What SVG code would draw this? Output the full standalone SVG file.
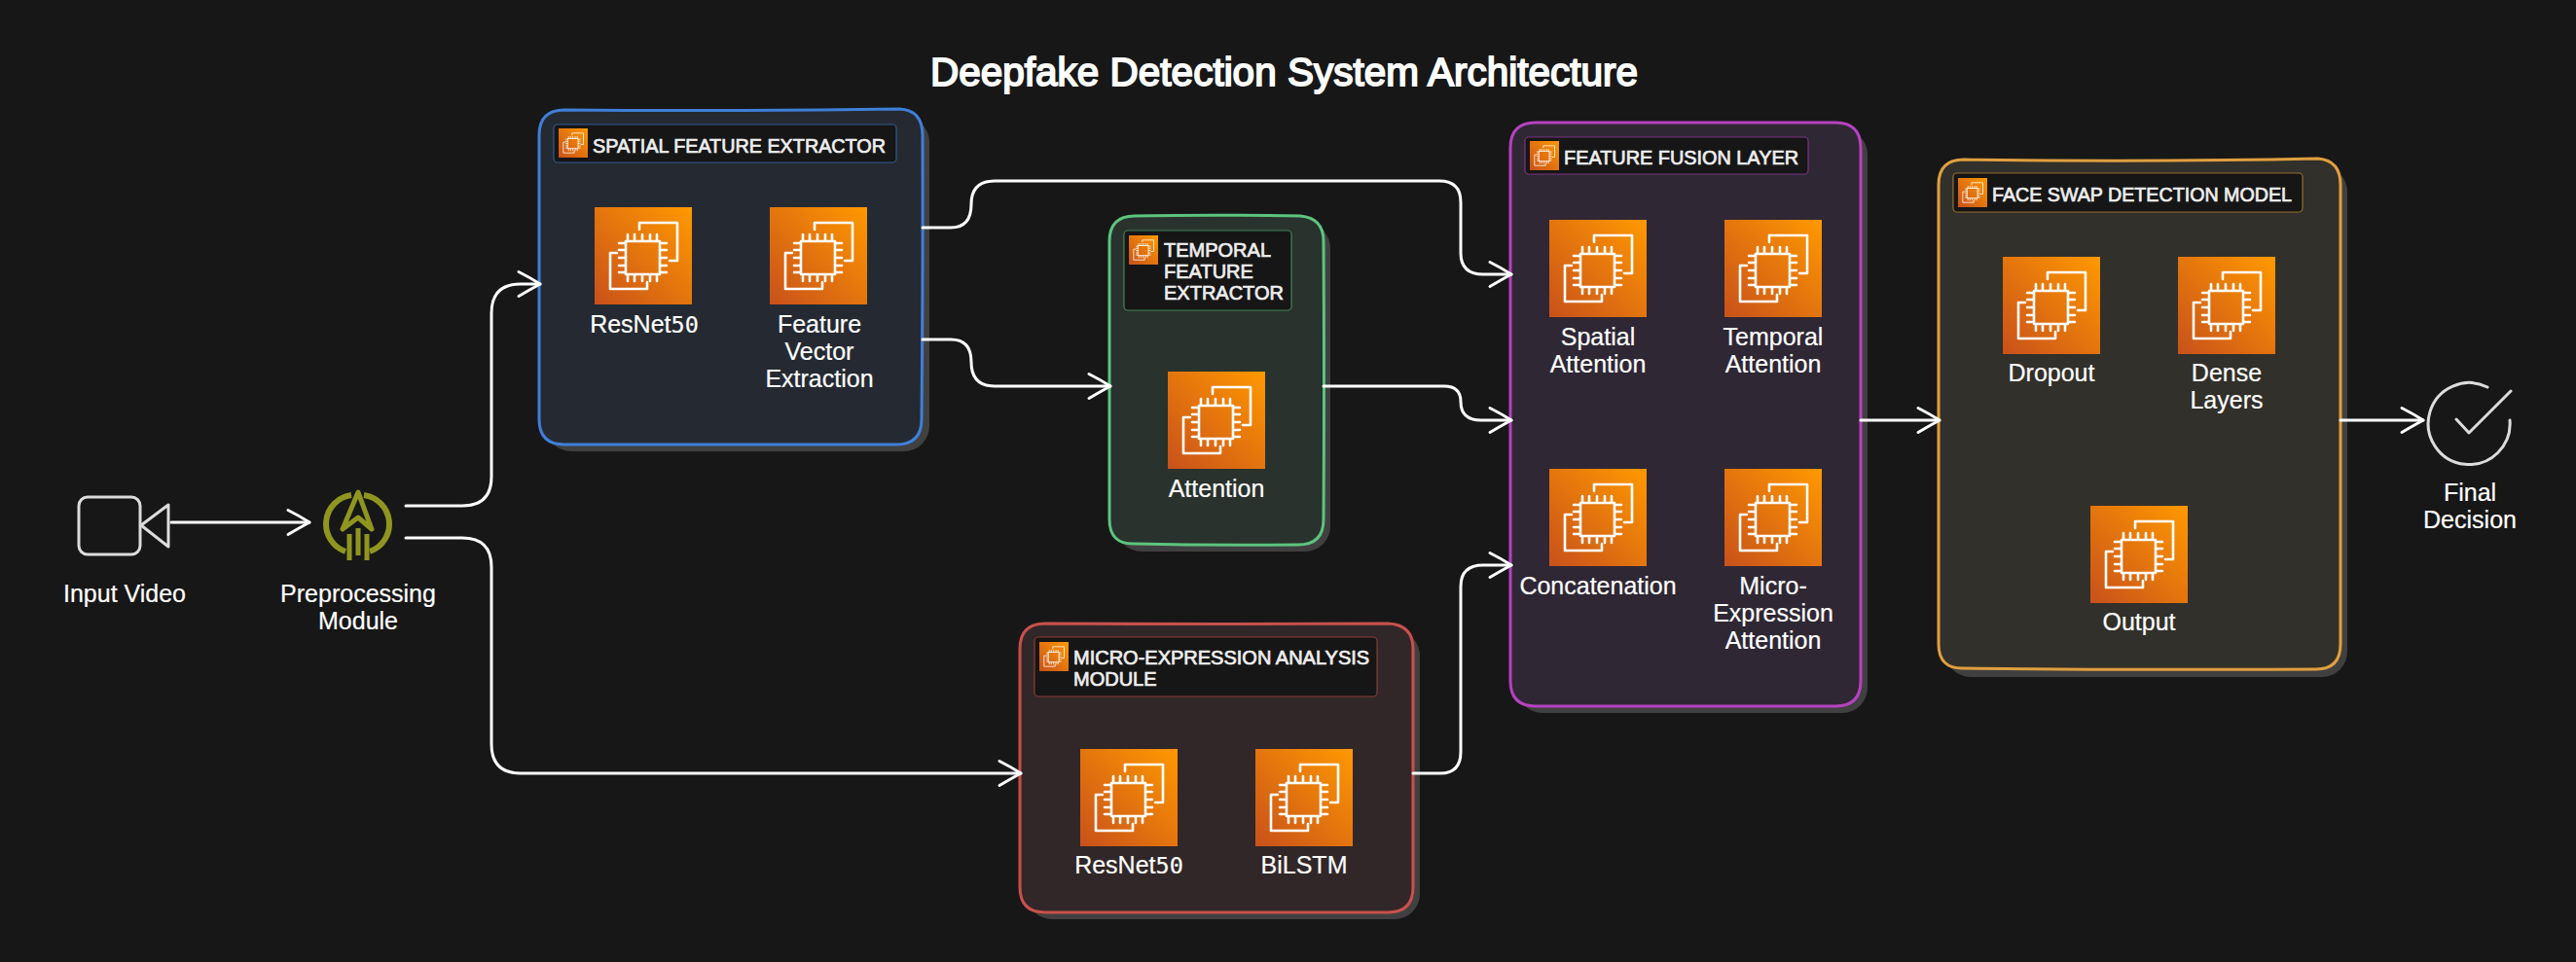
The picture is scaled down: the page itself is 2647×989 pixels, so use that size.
<svg xmlns="http://www.w3.org/2000/svg" width="2647" height="989" viewBox="0 0 2647 989">
<style>
text{font-family:"Liberation Sans",Arial,sans-serif;fill:#fff}
.l{font-size:25px;text-anchor:middle;stroke:#fff;stroke-width:.2}
.m{font-family:"DejaVu Sans Mono",monospace;font-size:23.500px}
.h{font-size:20px;fill:#eee;stroke:#eee;stroke-width:.7}
.t{font-size:40.500px;text-anchor:middle;stroke:#fff;stroke-width:1.800}
.c{fill:none;stroke:#fff;stroke-width:3;stroke-linecap:round;stroke-linejoin:round}
.s{fill:#404040}
.g{stroke-width:3}
.hb{fill:#161616;stroke-width:1.200;stroke-opacity:.6}
.ic{fill:none;stroke:#fff;stroke-width:2.600;stroke-linejoin:round;stroke-linecap:round}
.o{fill:none;stroke:#dcdcdc;stroke-width:3;stroke-linecap:round;stroke-linejoin:round}
.p{fill:none;stroke:#8f961f}
</style>
<defs>
<linearGradient id="gr" x1="0" y1="1" x2="1" y2="0"><stop offset="0" stop-color="#c8511b"/><stop offset="1" stop-color="#f90"/></linearGradient>
<symbol id="ec2" viewBox="0 0 100 100" width="100" height="100">
<rect width="100" height="100" fill="url(#gr)"/>
<path class="ic" d="M46 23V16H85V55H77M23 47H16V84H54V77M32 35H67V69H32ZM34 28V35M41 28V35M49 28V35M57 28V35M64 28V35M34 69V76M41 69V76M49 69V76M57 69V76M64 69V76M25 37H32M25 44H32M25 52H32M25 60H32M25 67H32M67 37H74M67 44H74M67 52H74M67 60H74M67 67H74"/>
</symbol>
<marker id="a" viewBox="0 0 26 30" refX="24" refY="15" markerWidth="26" markerHeight="30" markerUnits="userSpaceOnUse" orient="auto" overflow="visible">
<path d="M2 2.500Q13 8 24 15Q13 21 2 27.500" fill="none" stroke="#fff" stroke-width="3" stroke-linecap="round" stroke-linejoin="round"/>
</marker>
</defs>
<rect width="2647" height="989" fill="#171717"/>
<text class="t" x="1319.500" y="88" textLength="727" lengthAdjust="spacingAndGlyphs">Deepfake Detection System Architecture</text>

<g id="input-video">
<rect class="o" x="81" y="511" width="63" height="59" rx="9"/>
<path class="o" d="M145 540L173 519V562Z"/>
<text class="l" x="128" y="619">Input Video</text>
</g>
<g id="preprocessing">
<path class="p" stroke-width="6" d="M361 509A30 30 0 0 0 355 567M374 509A30 30 0 0 1 380 567"/>
<path class="p" stroke-width="5" stroke-linejoin="round" d="M368 506L382 544L368 532L352 544Z"/>
<path class="p" stroke-width="5" d="M359 549V576M368 543V571M377 549V576"/>
<text class="l" x="368" y="619">Preprocessing</text>
<text class="l" x="368" y="647">Module</text>
</g>

<g id="spatial">
<rect class="s" x="561" y="120" width="394" height="344" rx="26"/>
<path class="g" fill="#252a32" stroke="#3f7fd8" d="M580 113Q750 114.500 924 112Q948 113 948 139Q948.500 280 947 431Q947 457 921 457H580Q554 457 554 431V139Q554 113 580 113Z"/>
<rect class="hb" x="569" y="128" width="352" height="39" rx="4" stroke="#3f7fd8"/>
<use href="#ec2" x="574" y="132" width="30" height="30"/>
<text class="h" x="609" y="157" textLength="301" lengthAdjust="spacingAndGlyphs">SPATIAL FEATURE EXTRACTOR</text>
<use href="#ec2" x="611" y="213"/>
<text class="l" x="662" y="342">ResNet<tspan class="m">50</tspan></text>
<use href="#ec2" x="791" y="213"/>
<text class="l" x="842" y="342">Feature</text>
<text class="l" x="842" y="370">Vector</text>
<text class="l" x="842" y="398">Extraction</text>
</g>

<g id="temporal">
<rect class="s" x="1147" y="229" width="220" height="338" rx="26"/>
<path class="g" fill="#29322c" stroke="#5cc47e" d="M1166 222Q1250 220.500 1336 222Q1360 224 1360 248Q1361 400 1360 534Q1360 560 1334 560Q1250 561 1166 559Q1140 560 1140 534V248Q1140 222 1166 222Z"/>
<rect class="hb" x="1155" y="237" width="172" height="82" rx="4" stroke="#5cc47e"/>
<use href="#ec2" x="1160" y="242" width="30" height="30"/>
<text class="h" x="1196" y="264">TEMPORAL</text>
<text class="h" x="1196" y="286">FEATURE</text>
<text class="h" x="1196" y="308">EXTRACTOR</text>
<use href="#ec2" x="1200" y="382"/>
<text class="l" x="1250" y="511">Attention</text>
</g>

<g id="micro">
<rect class="s" x="1055" y="648" width="404" height="297" rx="26"/>
<path class="g" fill="#322728" stroke="#c9504c" d="M1074 641Q1250 642 1426 641Q1452 642 1452 667V912Q1452 938 1426 938H1074Q1048 938 1048 912V667Q1048 641 1074 641Z"/>
<rect class="hb" x="1063" y="655" width="352" height="61" rx="4" stroke="#c9504c"/>
<use href="#ec2" x="1068" y="660" width="30" height="30"/>
<text class="h" x="1103" y="683">MICRO-EXPRESSION ANALYSIS</text>
<text class="h" x="1103" y="705">MODULE</text>
<use href="#ec2" x="1110" y="770"/>
<text class="l" x="1160" y="898">ResNet<tspan class="m">50</tspan></text>
<use href="#ec2" x="1290" y="770"/>
<text class="l" x="1340" y="898">BiLSTM</text>
</g>

<g id="fusion">
<rect class="s" x="1559" y="133" width="360" height="600" rx="26"/>
<path class="g" fill="#2f2734" stroke="#b542c0" d="M1578 126H1886Q1912 126 1912 152V700Q1912 726 1886 726H1578Q1552 726 1552 700V152Q1552 126 1578 126Z"/>
<rect class="hb" x="1567" y="141" width="291" height="38" rx="4" stroke="#b542c0"/>
<use href="#ec2" x="1572" y="145" width="30" height="30"/>
<text class="h" x="1607" y="169" textLength="241" lengthAdjust="spacingAndGlyphs">FEATURE FUSION LAYER</text>
<use href="#ec2" x="1592" y="226"/>
<text class="l" x="1642" y="355">Spatial</text>
<text class="l" x="1642" y="383">Attention</text>
<use href="#ec2" x="1772" y="226"/>
<text class="l" x="1822" y="355">Temporal</text>
<text class="l" x="1822" y="383">Attention</text>
<use href="#ec2" x="1592" y="482"/>
<text class="l" x="1642" y="611">Concatenation</text>
<use href="#ec2" x="1772" y="482"/>
<text class="l" x="1822" y="611">Micro-</text>
<text class="l" x="1822" y="639">Expression</text>
<text class="l" x="1822" y="667">Attention</text>
</g>

<g id="faceswap">
<rect class="s" x="1999" y="171" width="413" height="525" rx="26"/>
<path class="g" fill="#32302a" stroke="#e09f3e" d="M2018 164Q2200 167 2382 163Q2405 165 2405 190Q2406 430 2405 662Q2405 688 2380 688Q2200 689 2018 687Q1992 688 1992 662V190Q1992 164 2018 164Z"/>
<rect class="hb" x="2007" y="178" width="359" height="40" rx="4" stroke="#e09f3e"/>
<use href="#ec2" x="2012" y="183" width="30" height="30"/>
<text class="h" x="2047" y="207" textLength="308" lengthAdjust="spacingAndGlyphs">FACE SWAP DETECTION MODEL</text>
<use href="#ec2" x="2058" y="264"/>
<text class="l" x="2108" y="392">Dropout</text>
<use href="#ec2" x="2238" y="264"/>
<text class="l" x="2288" y="392">Dense</text>
<text class="l" x="2288" y="420">Layers</text>
<use href="#ec2" x="2148" y="520"/>
<text class="l" x="2198" y="648">Output</text>
</g>

<g id="final">
<path class="o" d="M2556 398A42 42 0 1 0 2579 432"/>
<path class="o" d="M2524 431L2537 445L2580 402"/>
<text class="l" x="2538" y="515">Final</text>
<text class="l" x="2538" y="543">Decision</text>
</g>

<g id="connectors">
<path class="c" marker-end="url(#a)" d="M176 537H318"/>
<path class="c" marker-end="url(#a)" d="M417 520H475Q505 520 505 490V322Q505 292 535 292H555"/>
<path class="c" marker-end="url(#a)" d="M417 553H475Q505 553 505 583V765Q505 795 535 795H1049"/>
<path class="c" marker-end="url(#a)" d="M948 234H977Q998 234 998 210Q998 186 1022 186H1479Q1501 186 1501 208V260Q1501 282 1524 282H1553"/>
<path class="c" marker-end="url(#a)" d="M948 349H977Q998 349 998 372Q998 397 1022 397H1141"/>
<path class="c" marker-end="url(#a)" d="M1360 397H1484Q1501 397 1501 413Q1501 432 1522 432H1553"/>
<path class="c" marker-end="url(#a)" d="M1452 795H1480Q1501 795 1501 773V603Q1501 581 1524 581H1553"/>
<path class="c" marker-end="url(#a)" d="M1912 432H1993"/>
<path class="c" marker-end="url(#a)" d="M2405 432H2490"/>
</g>
</svg>
